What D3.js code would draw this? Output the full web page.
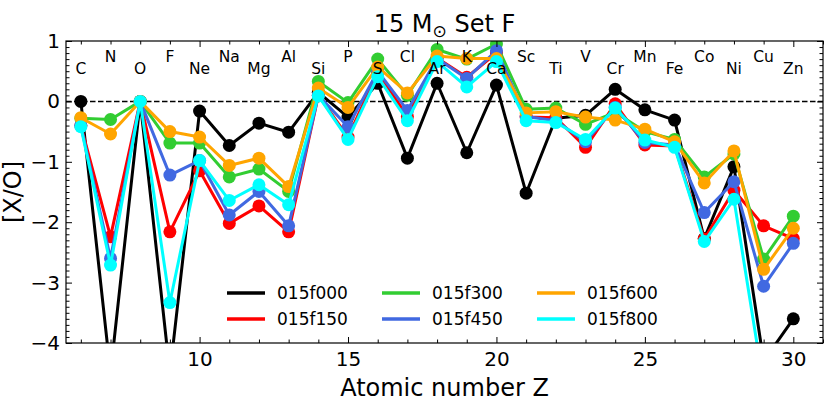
<!DOCTYPE html>
<html>
<head>
<meta charset="utf-8">
<script src="https://cdn.jsdelivr.net/npm/d3@7"></script>
<style>
  body { margin: 0; background: #fff; }
  text { font-family: "DejaVu Sans", sans-serif; }
</style>
</head>
<body>
<svg id="chart"></svg>
<script>
// svg size
const width = 830;
const height = 415;

// atomic number and element names
const atomicZ = [6, 7, 8, 9, 10, 11, 12, 13, 14, 15, 16, 17, 18, 19, 20, 21, 22, 23, 24, 25, 26, 27, 28, 29, 30];
const elements = ["C", "N", "O", "F", "Ne", "Na", "Mg", "Al", "Si", "P", "S", "Cl", "Ar", "K", "Ca", "Sc", "Ti", "V", "Cr", "Mn", "Fe", "Co", "Ni", "Cu", "Zn"];

// [X/O] per model
const f000 = [0, -4.5, 0, -4.5, -0.16, -0.73, -0.36, -0.51, 0.15, -0.26, 0.30, -0.94, 0.30, -0.85, 0.27, -1.52, -0.28, -0.23, 0.20, -0.14, -0.31, -2.27, -1.08, -4.3, -3.60];
const f150 = [-0.40, -2.24, 0, -2.16, -1.15, -2.02, -1.73, -2.16, 0.10, -0.59, 0.48, -0.25, 0.72, 0.40, 0.80, -0.26, -0.27, -0.76, -0.04, -0.72, -0.74, -2.28, -1.47, -2.06, -2.27];
const f300 = [-0.28, -0.30, 0, -0.69, -0.69, -1.25, -1.12, -1.49, 0.33, -0.02, 0.70, 0.10, 0.86, 0.70, 0.95, -0.13, -0.11, -0.38, -0.18, -0.50, -0.63, -1.25, -0.87, -2.61, -1.90];
const f450 = [-0.40, -2.60, 0, -1.22, -0.98, -1.88, -1.49, -2.06, 0.10, -0.42, 0.50, -0.15, 0.71, 0.38, 0.84, -0.25, -0.32, -0.67, -0.10, -0.68, -0.72, -1.84, -1.33, -3.06, -2.35];
const f600 = [-0.27, -0.54, 0, -0.50, -0.59, -1.06, -0.94, -1.41, 0.22, -0.10, 0.57, 0.14, 0.75, 0.71, 0.71, -0.19, -0.17, -0.26, -0.31, -0.46, -0.67, -1.35, -0.82, -2.78, -2.10];
const f800 = [-0.42, -2.71, 0, -3.33, -0.98, -1.64, -1.38, -1.71, 0.09, -0.63, 0.41, -0.32, 0.66, 0.24, 0.66, -0.32, -0.35, -0.63, -0.11, -0.64, -0.76, -2.32, -1.62, -4.7, -5.2];

const seriesNames = ["015f000", "015f150", "015f300", "015f450", "015f600", "015f800"];
const seriesValues = [f000, f150, f300, f450, f600, f800];
const seriesColors = ["#000000", "#ff0000", "#32cd32", "#4169e1", "#ffa500", "#00ffff"];

const xTicks = [10, 15, 20, 25, 30];
const yTicks = [1, 0, -1, -2, -3, -4];

// plot area
const margin = { top: 41, right: 7, bottom: 72, left: 66 };
const innerW = width - margin.left - margin.right;
const innerH = height - margin.top - margin.bottom;

const svg = d3.select("#chart")
    .attr("width", width)
    .attr("height", height);

const x = d3.scaleLinear().domain([5.5, 31]).range([0, innerW]);
const y = d3.scaleLinear().domain([-4, 1]).range([innerH, 0]);

const g = svg.append("g")
    .attr("transform", `translate(${margin.left},${margin.top})`);

g.append("clipPath").attr("id", "clip")
    .append("rect").attr("width", innerW).attr("height", innerH);

// zero line
g.append("line")
    .attr("x1", 0).attr("x2", innerW)
    .attr("y1", y(0)).attr("y2", y(0))
    .attr("stroke", "#000")
    .attr("stroke-width", 1.5)
    .attr("stroke-dasharray", "5.5,2.5");

// series lines + markers
const plot = g.append("g").attr("clip-path", "url(#clip)");
const line = d3.line()
    .x((d, i) => x(atomicZ[i]))
    .y(d => y(d));

seriesValues.forEach((vals, k) => {
    plot.append("path")
        .datum(vals)
        .attr("d", line)
        .attr("fill", "none")
        .attr("stroke", seriesColors[k])
        .attr("stroke-width", 3)
        .attr("stroke-linejoin", "round");
    plot.selectAll(null)
        .data(vals)
        .enter()
        .append("circle")
        .attr("cx", (d, i) => x(atomicZ[i]))
        .attr("cy", d => y(d))
        .attr("r", 6.5)
        .attr("fill", seriesColors[k]);
});

// element labels on top, odd Z up, even Z down
g.selectAll("text.elem")
    .data(elements)
    .enter()
    .append("text")
    .attr("class", "elem")
    .attr("x", (d, i) => x(atomicZ[i]))
    .attr("y", (d, i) => atomicZ[i] % 2 === 1 ? y(0.65) : y(0.45))
    .attr("text-anchor", "middle")
    .attr("font-size", 15.5)
    .text(d => d);

// axes, ticks pointing in
const fmt = d3.format("d");
const xMinor = atomicZ.concat([31]).filter(v => v % 5 !== 0);
const xAxis = g.append("g")
    .attr("transform", `translate(0,${innerH})`)
    .call(d3.axisBottom(x).tickValues(xTicks).tickSize(-6).tickPadding(9).tickFormat(fmt));
g.append("g")
    .attr("transform", `translate(0,${innerH})`)
    .call(d3.axisBottom(x).tickValues(xMinor).tickSize(-3.5).tickFormat(""));
g.append("g")
    .call(d3.axisTop(x).tickValues(xTicks).tickSize(-6).tickFormat(""));
g.append("g")
    .call(d3.axisTop(x).tickValues(xMinor).tickSize(-3.5).tickFormat(""));

const yMinor = d3.range(-40, 11).filter(v => v % 10 !== 0).map(v => v / 10);
const yAxis = g.append("g")
    .call(d3.axisLeft(y).tickValues(yTicks).tickSize(-6).tickPadding(6).tickFormat(fmt));
g.append("g")
    .call(d3.axisLeft(y).tickValues(yMinor).tickSize(-3.5).tickFormat(""));
g.append("g")
    .attr("transform", `translate(${innerW},0)`)
    .call(d3.axisRight(y).tickValues(yTicks).tickSize(-6).tickFormat(""));
g.append("g")
    .attr("transform", `translate(${innerW},0)`)
    .call(d3.axisRight(y).tickValues(yMinor).tickSize(-3.5).tickFormat(""));

g.selectAll(".domain").remove();
g.selectAll(".tick line").attr("stroke", "#000").attr("stroke-width", 1);
xAxis.selectAll("text").attr("font-size", 20).attr("fill", "#000").attr("font-family", "DejaVu Sans");
yAxis.selectAll("text").attr("font-size", 20).attr("fill", "#000").attr("font-family", "DejaVu Sans");

// frame
g.append("rect")
    .attr("width", innerW)
    .attr("height", innerH)
    .attr("fill", "none")
    .attr("stroke", "#000")
    .attr("stroke-width", 1.2);

// axis titles
svg.append("text")
    .attr("x", margin.left + innerW / 2)
    .attr("y", 396)
    .attr("text-anchor", "middle")
    .attr("font-size", 24)
    .text("Atomic number Z");

svg.append("text")
    .attr("transform", `translate(21,${margin.top + innerH / 2}) rotate(-90)`)
    .attr("text-anchor", "middle")
    .attr("font-size", 24)
    .text("[X/O]");

// title
const title = svg.append("text")
    .attr("x", margin.left + innerW / 2)
    .attr("y", 32)
    .attr("text-anchor", "middle")
    .attr("font-size", 24);
title.append("tspan").text("15 M");
title.append("tspan").attr("font-size", 17).attr("dy", 5).text("\u2299");
title.append("tspan").attr("dy", -5).text(" Set F");

// legend, 3 columns x 2 rows
const legend = g.append("g")
    .attr("transform", `translate(${227 - margin.left},${293 - margin.top})`);
const item = legend.selectAll("g")
    .data(seriesNames)
    .enter()
    .append("g")
    .attr("transform", (d, i) => `translate(${Math.floor(i / 2) * 155},${(i % 2) * 26})`);
item.append("line")
    .attr("x1", 0).attr("x2", 38)
    .attr("stroke", (d, i) => seriesColors[i])
    .attr("stroke-width", 3.5);
item.append("text")
    .attr("x", 50)
    .attr("dy", "0.36em")
    .attr("font-size", 17)
    .text(d => d);
</script>
</body>
</html>
